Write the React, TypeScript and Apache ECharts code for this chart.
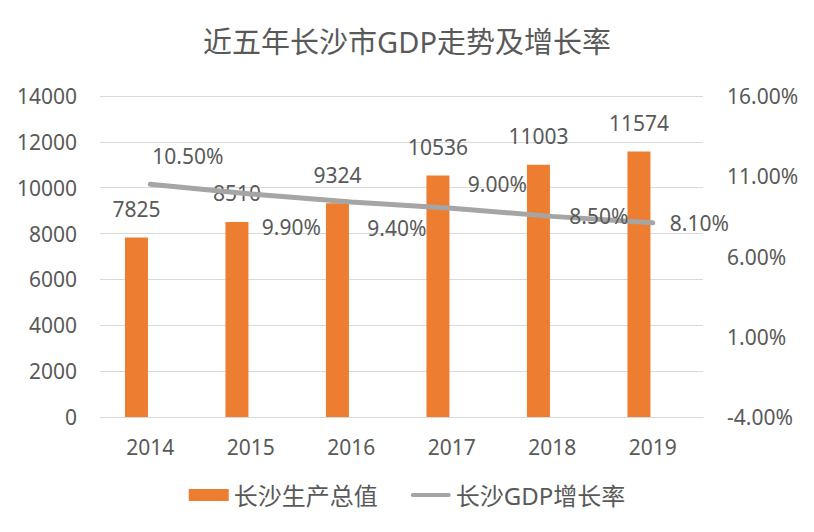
import React, { useEffect, useRef } from "react";
import * as echarts from "echarts";

const titleText = "近五年长沙市GDP走势及增长率";
const years = ["2014", "2015", "2016", "2017", "2018", "2019"];
const gdpValues = [7825, 8510, 9324, 10536, 11003, 11574];
const growthRates = [10.5, 9.9, 9.4, 9.0, 8.5, 8.1];
const leftTicks = [0, 2000, 4000, 6000, 8000, 10000, 12000, 14000];
const rightTicks = [-4, 1, 6, 11, 16];
const gdpName = "长沙生产总值";
const growthName = "长沙GDP增长率";

// label nudges (styling only)
const growthLabelOffsets: [number, number][] = [
  [-15, -28],
  [-6, 33],
  [-1, 26],
  [-1, -24],
  [0, 0],
  [0, 0],
];

const FONT = "'Noto Sans', 'Noto Sans CJK SC', sans-serif";
const TEXT = "#595959";

export default function App() {
  const ref = useRef<HTMLDivElement>(null);
  useEffect(() => {
    if (!ref.current) return;
    const chart = echarts.init(ref.current, null, { renderer: "svg" });
    chart.setOption({
      animation: false,
      backgroundColor: "#ffffff",
      textStyle: { fontFamily: FONT },
      title: {
        text: titleText,
        left: "center",
        top: 22,
        textStyle: { fontFamily: FONT, fontSize: 29, fontWeight: "normal", color: TEXT },
      },
      legend: {
        data: [
          { name: gdpName, icon: "rect" },
          {
            name: growthName,
            icon: "path://M2,0 H40 A2,2 0 0 1 40,4 H2 A2,2 0 0 1 2,0 Z",
          },
        ],
        bottom: 20,
        left: "center",
        itemWidth: 40,
        itemHeight: 12,
        itemGap: 33,
        textStyle: { fontFamily: FONT, fontSize: 24, color: TEXT },
      },
      grid: { left: 100, right: 111, top: 96, bottom: 115 },
      xAxis: {
        type: "category",
        data: years,
        axisLine: { show: true, lineStyle: { color: "#d9d9d9" } },
        axisTick: { show: false },
        axisLabel: { fontFamily: FONT, fontSize: 21, color: TEXT, margin: 19 },
      },
      yAxis: [
        {
          type: "value",
          min: leftTicks[0],
          max: leftTicks[leftTicks.length - 1],
          interval: 2000,
          axisLine: { show: false },
          axisTick: { show: false },
          splitLine: { lineStyle: { color: "#d9d9d9", width: 1 } },
          axisLabel: {
            fontFamily: FONT,
            fontSize: 21,
            color: TEXT,
            margin: 23,
            formatter: (v: number) => String(v),
          },
        },
        {
          type: "value",
          min: rightTicks[0],
          max: rightTicks[rightTicks.length - 1],
          axisLine: { show: false },
          axisTick: { show: false },
          splitLine: { show: false },
          axisLabel: {
            customValues: rightTicks,
            fontFamily: FONT,
            fontSize: 21,
            color: TEXT,
            margin: 24,
            formatter: (v: number) => v.toFixed(2) + "%",
          },
        },
      ],
      series: [
        {
          name: gdpName,
          type: "bar",
          data: gdpValues,
          barWidth: 23,
          barGap: "20%",
          itemStyle: { color: "#ed7d31" },
          label: {
            show: true,
            position: "top",
            distance: 18,
            fontFamily: FONT,
            fontSize: 21,
            color: TEXT,
          },
        },
        {
          name: "pad",
          type: "bar",
          data: years.map(() => null),
          barWidth: 23,
          silent: true,
        },
        {
          name: growthName,
          type: "line",
          yAxisIndex: 1,
          data: growthRates.map((v, i) => ({
            value: v,
            label: { offset: growthLabelOffsets[i] },
          })),
          symbol: "circle",
          symbolSize: 0.01,
          showSymbol: true,
          lineStyle: { color: "#a5a5a5", width: 5, cap: "round" },
          itemStyle: { color: "#a5a5a5" },
          z: 5,
          label: {
            show: true,
            position: "right",
            distance: 17,
            fontFamily: FONT,
            fontSize: 21,
            color: TEXT,
            formatter: (p: any) => Number(p.value).toFixed(2) + "%",
          },
        },
      ],
    });
    return () => chart.dispose();
  }, []);
  return (
    <div
      ref={ref}
      style={{ position: "fixed", left: 0, top: 0, width: 814, height: 532 }}
    />
  );
}
